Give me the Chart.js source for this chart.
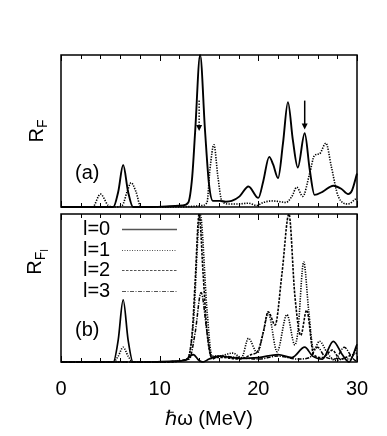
<!DOCTYPE html>
<html>
<head>
<meta charset="utf-8">
<script src="https://cdn.jsdelivr.net/npm/chart.js@4.4.1/dist/chart.umd.min.js"></script>
<style>
  html, body { margin: 0; padding: 0; background: #fff; }
  #wrap { position: relative; width: 387px; height: 436px; overflow: hidden; font-family: "Liberation Sans", Arial, sans-serif; }
  canvas { position: absolute; left: 0; top: 0; }
  .ylab { position: absolute; font-size: 20px; color: #000; transform: translate(-50%, -50%) rotate(-90deg); white-space: nowrap; line-height: 1; }
  .ylab sub { font-size: 14px; vertical-align: -4px; }
  .ylab sub sub { font-size: 10px; vertical-align: -3px; }
</style>
</head>
<body>
<div id="wrap">
  <canvas id="top" width="387" height="436"></canvas>
  <canvas id="bot" width="387" height="436"></canvas>
  <div class="ylab" style="left:37px; top:131px;">R<sub>F</sub></div>
  <div class="ylab" style="left:37px; top:262px;">R<sub>F<sub>l</sub></sub></div>
</div>
<script>
// panel (a): energies (MeV) and R_F values
const eTopSolid = [0, 3, 5.3, 5.8, 6.3, 6.8, 7.3, 9, 11, 12.3, 12.9, 13.3, 13.6, 14.1, 14.6, 15.0, 15.4, 16.1, 16.7, 17.3, 18.1, 19.0, 20.0, 20.5, 21.1, 21.5, 22.0, 22.5, 23.0, 23.5, 24.0, 24.7, 25.2, 25.7, 26.5, 27.6, 28.4, 29.1, 29.5, 30];
const rTopSolid = [0, 0, 0, 0.1, 0.276, 0.1, 0, 0, 0.005, 0.01, 0.03, 0.2, 0.5, 1.0, 0.5, 0.15, 0.04, 0.04, 0.035, 0.04, 0.07, 0.135, 0.06, 0.17, 0.33, 0.28, 0.19, 0.42, 0.69, 0.44, 0.26, 0.485, 0.25, 0.08, 0.1, 0.14, 0.12, 0.085, 0.11, 0.22];
const eTopDot = [0, 3.2, 4.0, 4.8, 5.5, 6.2, 6.7, 7.1, 7.6, 8.1, 10, 12, 13.5, 14.3, 14.8, 15.1, 15.5, 15.9, 16.3, 17.0, 18.0, 19.0, 19.8, 20.5, 21.4, 22.2, 22.8, 23.4, 23.9, 24.5, 25.2, 25.7, 26.2, 26.85, 27.4, 28.1, 29.1, 29.8, 30];
const rTopDot = [0, 0, 0.085, 0.01, 0, 0.01, 0.1, 0.16, 0.1, 0, 0, 0, 0.005, 0.01, 0.03, 0.25, 0.41, 0.2, 0.04, 0.02, 0.02, 0.025, 0.01, 0.03, 0.04, 0.035, 0.03, 0.07, 0.13, 0.07, 0.22, 0.34, 0.35, 0.42, 0.265, 0.07, 0.02, 0.05, 0.06];
// arrows in panel (a)
const arrowE = [14.0, 24.7];
const arrowFrom = [0.70, 0.70];
const arrowTo = [0.50, 0.51];
const arrowDotted = [true, false];

// panel (b): partial contributions l = 0..3
const legendLabels = ['l=0', 'l=1', 'l=2', 'l=3'];
const e0 = [0, 4, 5.3, 5.8, 6.3, 6.8, 7.3, 9, 11, 12.5, 13.4, 14.0, 14.4, 15.0, 16.0, 18.0, 20.0, 22.0, 23.4, 24.7, 25.5, 26.5, 27.6, 28.5, 29.2, 30];
const r0 = [0, 0, 0, 0.15, 0.42, 0.15, 0, 0, 0.005, 0.01, 0.05, 0.01, 0, 0.02, 0.04, 0.025, 0.03, 0.05, 0.03, 0.1, 0.04, 0.02, 0.14, 0.05, 0.0, 0.12];
const e1 = [0, 5.3, 5.8, 6.3, 6.8, 7.3, 10, 12.8, 13.4, 14.1, 14.8, 15.3, 16.0, 17.4, 18.3, 19.0, 19.9, 20.5, 21.0, 21.9, 22.9, 23.7, 24.0, 24.6, 25.1, 25.6, 26.2, 27.0, 27.8, 28.6, 29.3, 30];
const r1 = [0, 0, 0.04, 0.1, 0.04, 0, 0, 0.02, 0.25, 1.0, 0.35, 0.04, 0.04, 0.06, 0.03, 0.16, 0.06, 0.2, 0.33, 0.07, 0.32, 0.115, 0.2, 0.676, 0.35, 0.08, 0.14, 0.06, 0.01, 0.02, 0.02, 0.1];
const e2 = [0, 10, 12.8, 13.3, 13.6, 14.0, 14.4, 14.8, 15.3, 16.5, 18.0, 19.3, 20.0, 20.5, 21.0, 21.7, 22.4, 23.1, 23.7, 24.3, 24.9, 25.6, 26.5, 27.5, 28.3, 29.2, 30];
const r2 = [0, 0, 0.02, 0.2, 0.55, 1.0, 0.6, 0.2, 0.03, 0.03, 0.02, 0.05, 0.08, 0.2, 0.34, 0.25, 0.6, 1.0, 0.45, 0.18, 0.35, 0.05, 0.03, 0.08, 0.02, 0.04, 0.06];
const e3 = [0, 10, 13.0, 13.6, 14.2, 14.8, 15.3, 16.0, 18, 20, 22, 24, 25.2, 26.0, 26.7, 27.8, 28.7, 29.5, 30];
const r3 = [0, 0, 0.02, 0.2, 0.47, 0.2, 0.02, 0.04, 0.03, 0.02, 0.04, 0.02, 0.03, 0.1, 0.04, 0.02, 0.1, 0.03, 0.0];

const xTicks = [0, 10, 20, 30];
const FONT = '"Liberation Sans", Arial, sans-serif';

function pts(xs, ys) { return xs.map((x, i) => ({ x: x, y: ys[i] })); }

function serie(xs, ys, dash, width) {
  return {
    data: pts(xs, ys), borderColor: '#000', borderWidth: width, borderDash: dash,
    pointRadius: 0, fill: false, cubicInterpolationMode: 'monotone', clip: 2
  };
}

// frame + inward ticks every 2 MeV, plus panel letter
function framePlugin(letter, letterY) {
  return {
    id: 'frame',
    afterDraw(chart) {
      const ctx = chart.ctx, a = chart.chartArea, xs = chart.scales.x;
      ctx.save();
      ctx.strokeStyle = '#000';
      ctx.lineWidth = 1.5;
      ctx.strokeRect(a.left, a.top, a.right - a.left, a.bottom - a.top);
      ctx.lineWidth = 1;
      for (let v = 0; v <= 30; v += 2) {
        const px = Math.round(xs.getPixelForValue(v)) + 0.5;
        const len = v % 10 === 0 ? 6 : 4;
        ctx.beginPath();
        ctx.moveTo(px, a.top); ctx.lineTo(px, a.top + len);
        ctx.moveTo(px, a.bottom); ctx.lineTo(px, a.bottom - len);
        ctx.stroke();
      }
      ctx.fillStyle = '#000';
      ctx.font = '20px ' + FONT;
      ctx.textBaseline = 'middle';
      ctx.fillText(letter, 75, letterY);
      ctx.restore();
    }
  };
}

const arrowPlugin = {
  id: 'arrows',
  afterDatasetsDraw(chart) {
    const ctx = chart.ctx, xs = chart.scales.x, ys = chart.scales.y;
    ctx.save();
    ctx.strokeStyle = '#000'; ctx.fillStyle = '#000';
    arrowE.forEach((e, i) => {
      const px = xs.getPixelForValue(e);
      const y1 = ys.getPixelForValue(arrowFrom[i]);
      const y2 = ys.getPixelForValue(arrowTo[i]);
      ctx.lineWidth = arrowDotted[i] ? 1.4 : 1.5;
      ctx.setLineDash(arrowDotted[i] ? [1.5, 1.5] : []);
      ctx.beginPath(); ctx.moveTo(px, y1); ctx.lineTo(px, y2 - 5); ctx.stroke();
      ctx.setLineDash([]);
      ctx.beginPath();
      ctx.moveTo(px - 3, y2 - 6); ctx.lineTo(px + 3, y2 - 6); ctx.lineTo(px, y2); ctx.closePath();
      ctx.fill();
    });
    ctx.restore();
  }
};

const legendDash = [[], [1, 1.5], [2.5, 1.5], [4, 1.5, 1, 1.5]];
const legendPlugin = {
  id: 'legendBox',
  afterDraw(chart) {
    const ctx = chart.ctx;
    ctx.save();
    ctx.fillStyle = '#000'; ctx.strokeStyle = '#555';
    ctx.font = '20px ' + FONT;
    ctx.textBaseline = 'middle';
    const rows = [229, 250, 270, 291];
    legendLabels.forEach((lab, i) => {
      ctx.fillText(lab, 83, rows[i]);
      ctx.lineWidth = i === 0 ? 1.5 : 1.2;
      ctx.setLineDash(legendDash[i]);
      ctx.beginPath(); ctx.moveTo(122, rows[i] + 0.5); ctx.lineTo(177, rows[i] + 0.5); ctx.stroke();
    });
    ctx.restore();
  }
};

const baseX = { type: 'linear', min: 0, max: 30 };
const baseY = { type: 'linear', min: 0, max: 1, display: false };

new Chart(document.getElementById('top'), {
  type: 'line',
  data: { datasets: [serie(eTopSolid, rTopSolid, [], 1.9), serie(eTopDot, rTopDot, [1.3, 1.3], 1.6)] },
  options: {
    responsive: false, animation: false, events: [],
    layout: { padding: { left: 61, right: 30, top: 55, bottom: 229 } },
    plugins: { legend: { display: false }, tooltip: { enabled: false } },
    scales: { x: Object.assign({}, baseX, { display: false }), y: baseY }
  },
  plugins: [framePlugin('(a)', 173), arrowPlugin]
});

new Chart(document.getElementById('bot'), {
  type: 'line',
  data: { datasets: [
    serie(e0, r0, [], 1.7),
    serie(e1, r1, [1.2, 1.3], 1.6),
    serie(e2, r2, [2.5, 1.3], 1.6),
    serie(e3, r3, [4, 1.3, 1.2, 1.3], 1.5)
  ] },
  options: {
    responsive: false, animation: false, events: [],
    layout: { padding: { left: 61, right: 30, top: 214, bottom: 0 } },
    plugins: { legend: { display: false }, tooltip: { enabled: false } },
    scales: {
      x: Object.assign({}, baseX, {
        afterBuildTicks: (s) => { s.ticks = xTicks.map(v => ({ value: v })); },
        afterFit: (s) => { s.height = 74; },
        grid: { display: false, drawTicks: false },
        border: { display: false },
        ticks: { color: '#000', font: { family: FONT, size: 20 }, padding: 15, maxRotation: 0 },
        title: { display: true, text: 'ℏω (MeV)', color: '#000', font: { family: FONT, size: 20 }, padding: { top: 0, bottom: 5 } }
      }),
      y: baseY
    }
  },
  plugins: [framePlugin('(b)', 330), legendPlugin]
});
</script>
</body>
</html>
